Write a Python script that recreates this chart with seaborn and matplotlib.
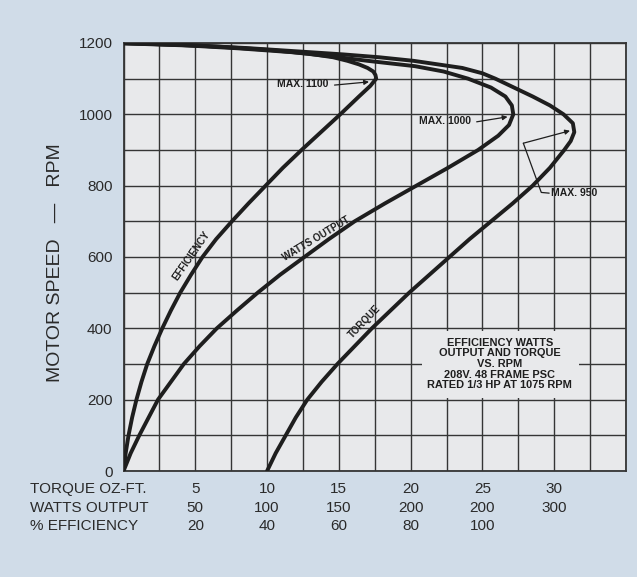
import numpy as np
import pandas as pd
import seaborn as sns
import matplotlib.pyplot as plt
from matplotlib.patches import Rectangle

# curves (rpm, value on its own scale)
eff_rpm = [0, 50, 100, 150, 200, 250, 300, 350, 400, 450, 500, 550, 600, 650, 700, 750, 800, 850,
           900, 950, 1000, 1050, 1080, 1100, 1110, 1120, 1130, 1140, 1150, 1160, 1170, 1180, 1190, 1196, 1199]
eff_pct = [0, 0.6, 1.4, 2.4, 3.6, 5.0, 6.6, 8.6, 10.8, 13.2, 15.8, 18.8, 22.0, 25.8, 30.2, 34.8, 39.6, 44.4,
           49.6, 55.0, 60.4, 65.6, 68.8, 70.4, 70.2, 69.6, 68.0, 65.6, 62.4, 58.4, 51.6, 41.2, 26.0, 12.0, 0]

watts_rpm = [0, 50, 100, 150, 200, 250, 300, 350, 400, 450, 500, 550, 600, 650, 700, 750, 800, 850, 900,
             940, 970, 1000, 1025, 1050, 1075, 1100, 1120, 1135, 1150, 1162, 1174, 1185, 1193, 1199]
watts_out = [0, 5, 11, 17.5, 24, 33, 42, 53, 65, 79, 93.5, 109, 126, 143, 161, 182, 204, 226, 247,
             261, 268.5, 271.5, 270.5, 266, 256, 240, 223, 203, 170, 146, 118, 80, 45, 0]

torque_rpm = [0, 50, 100, 150, 200, 250, 300, 350, 400, 450, 500, 550, 600, 650, 700, 750, 800, 850, 900,
              925, 950, 975, 1000, 1025, 1050, 1075, 1100, 1115, 1130, 1150, 1160, 1168, 1176, 1186, 1193, 1200]
torque_ozft = [10.0, 10.6, 11.3, 12.0, 12.8, 13.8, 14.9, 16.1, 17.3, 18.6, 19.9, 21.3, 22.7, 24.1, 25.6, 27.1,
               28.5, 29.7, 30.7, 31.15, 31.4, 31.3, 30.65, 29.7, 28.5, 27.2, 25.9, 25.0, 23.6, 20.2, 17.8,
               15.3, 12.3, 8.5, 5.0, 0]

tick_torque = [5, 10, 15, 20, 25, 30]
tick_watts = ['50', '100', '150', '200', '200', '300']
tick_eff = ['20', '40', '60', '80', '100', '']
row_names = ['TORQUE OZ-FT.', 'WATTS OUTPUT', '% EFFICIENCY']
note_lines = ['EFFICIENCY WATTS', 'OUTPUT AND TORQUE', 'VS. RPM', '208V. 48 FRAME PSC',
              'RATED 1/3 HP AT 1075 RPM']

INK = '#1e1e1e'
GRID = '#353535'
TXT = '#2a2a2a'
BG = '#d0dce8'
PANEL = '#e8e9eb'


def build_frame():
    # everything sits on the torque scale: 5 oz-ft = 50 W = 20 %
    eff = pd.DataFrame({'x': np.array(eff_pct) / 4, 'rpm': eff_rpm, 'curve': 'efficiency'})
    watts = pd.DataFrame({'x': np.array(watts_out) / 10, 'rpm': watts_rpm, 'curve': 'watts'})
    torque = pd.DataFrame({'x': torque_ozft, 'rpm': torque_rpm, 'curve': 'torque'})
    return pd.concat([eff, watts, torque], ignore_index=True)


def draw(data):
    sns.set_style('white')
    plt.rcParams['font.family'] = ['Liberation Sans', 'DejaVu Sans']

    fig = plt.figure(figsize=(6.37, 5.77), dpi=100, facecolor=BG)
    ax = fig.add_axes([0.1939, 0.1837, 0.7888, 0.7418])
    ax.set_facecolor(PANEL)

    for name, sub in data.groupby('curve'):
        sns.lineplot(data=sub, x='x', y='rpm', sort=False, estimator=None, ax=ax,
                     color=INK, linewidth=2.8, zorder=3)

    ax.set_xlim(0, 35)
    ax.set_ylim(0, 1200)
    ax.set_xticks(list(tick_torque) + [35])
    ax.set_xticks(np.arange(0, 35.1, 2.5), minor=True)
    ax.set_yticks(np.arange(0, 1201, 200))
    ax.set_yticks(np.arange(0, 1201, 100), minor=True)
    labels = [f'{t}\n{w}\n{e}' for t, w, e in zip(tick_torque, tick_watts, tick_eff)] + ['']
    ax.set_xticklabels(labels, fontsize=11, color=TXT, linespacing=1.42)
    ax.tick_params(axis='y', labelsize=11, labelcolor=TXT)
    ax.tick_params(which='major', direction='out', length=5, width=1.1, color=GRID, pad=3)
    ax.tick_params(which='minor', length=0)
    ax.grid(True, which='both', color=GRID, linewidth=1.0)
    ax.set_axisbelow(True)
    for sp in ax.spines.values():
        sp.set_visible(True)
        sp.set_color(GRID)
        sp.set_linewidth(1.3)

    ax.set_xlabel('')
    ax.set_ylabel('MOTOR SPEED   —   RPM', fontsize=14, color=TXT)
    ax.yaxis.set_label_coords(-0.118, 0.488)

    ax.annotate('\n'.join(row_names), xy=(30, 0), xycoords=('figure pixels', 'axes fraction'),
                xytext=(0, -8), textcoords='offset points', ha='left', va='top',
                fontsize=11, color=TXT, linespacing=1.42)

    # blank panel behind the note
    ax.add_patch(Rectangle((20.8, 205), 10.9, 188, facecolor=PANEL, edgecolor='none', zorder=1))
    ax.text(26.2, 300, '\n'.join(note_lines), ha='center', va='center', fontsize=7.9,
            fontweight='bold', color=INK, linespacing=1.08, zorder=4)

    bold = dict(fontsize=7, fontweight='bold', color=INK, ha='center', va='center',
                rotation_mode='anchor', zorder=4)
    ax.text(4.75, 603, 'EFFICIENCY', rotation=55, **bold)
    ax.text(13.4, 650, 'WATTS OUTPUT', rotation=31, **bold)
    ax.text(16.8, 418, 'TORQUE', rotation=46, **bold)

    arrow = dict(arrowstyle='-|>', lw=0.9, color=INK, mutation_scale=7, shrinkA=0, shrinkB=0)
    note = dict(fontsize=7.5, fontweight='bold', color=INK, va='center', zorder=4)
    ax.text(12.45, 1084, 'MAX. 1100', ha='center', **note)
    ax.annotate('', xy=(17.1, 1091), xytext=(14.7, 1082), arrowprops=arrow, zorder=4)
    ax.text(22.4, 981, 'MAX. 1000', ha='center', **note)
    ax.annotate('', xy=(26.75, 993), xytext=(24.6, 979), arrowprops=arrow, zorder=4)
    ax.text(29.75, 779, 'MAX. 950', ha='left', **note)
    ax.plot([29.65, 29.1, 27.85], [779, 781, 919], color=INK, lw=0.9, zorder=4)
    ax.annotate('', xy=(31.1, 954), xytext=(27.85, 919), arrowprops=arrow, zorder=4)

    fig.savefig('out.png', dpi=100, facecolor=BG)


if __name__ == '__main__':
    data = build_frame()
    draw(data)
